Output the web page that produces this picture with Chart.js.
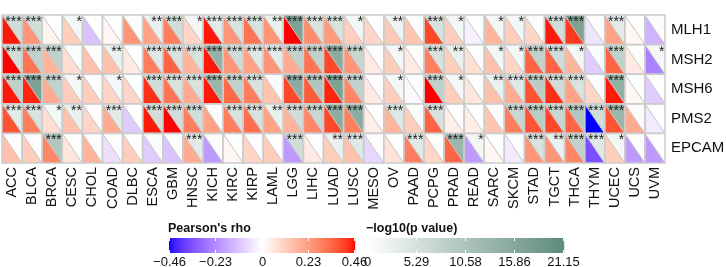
<!DOCTYPE html>
<html>
<head>
<meta charset="utf-8">
<script src="https://cdn.jsdelivr.net/npm/chart.js@4.4.1/dist/chart.umd.min.js"></script>
<style>
  html, body { margin: 0; padding: 0; background: #fff; }
  #wrap { width: 726px; height: 267px; }
</style>
</head>
<body>
<div id="wrap"><canvas id="heat" width="726" height="267"></canvas></div>
<script>
const cancers = ["ACC","BLCA","BRCA","CESC","CHOL","COAD","DLBC","ESCA","GBM","HNSC","KICH",
  "KIRC","KIRP","LAML","LGG","LIHC","LUAD","LUSC","MESO","OV","PAAD","PCPG",
  "PRAD","READ","SARC","SKCM","STAD","TGCT","THCA","THYM","UCEC","UCS","UVM"];
const genes = ["MLH1","MSH2","MSH6","PMS2","EPCAM"];

// Pearson's rho, one array per gene
const rhoMLH1 = [0.45,0.25,0.03,0.12,-0.12,0.02,0.25,0.22,0.30,0.10,0.45, 0.25,0.32,0.25,0.46,0.27,0.24,0.12,0.10,0.13,0.14,0.40, 0.12,-0.03,0.18,0.12,0.10,0.45,0.42,-0.05,0.22,0.02,-0.15];
const rhoMSH2 = [0.46,0.32,0.18,0.08,0.15,0.15,0.05,0.30,0.35,0.18,0.45, 0.25,0.22,0.25,0.20,0.32,0.40,0.25,0.05,0.12,0.05,0.30, 0.12,0.08,0.15,0.10,0.35,0.35,0.18,-0.10,0.35,0.05,-0.25];
const rhoMSH6 = [0.45,0.44,0.20,0.12,0.12,0.10,0.10,0.43,0.32,0.20,0.45, 0.34,0.30,0.14,0.40,0.37,0.44,0.28,0.05,0.12,-0.01,0.46, 0.12,0.06,0.15,0.20,0.38,0.43,0.22,0.10,0.45,0.02,-0.10];
const rhoPMS2 = [0.38,0.30,0.08,0.15,0.10,0.20,-0.10,0.45,0.46,0.30,0.22, 0.30,0.33,0.22,0.18,0.28,0.40,0.30,0.04,0.18,0.12,0.35, 0.04,0.04,0.14,0.30,0.38,0.40,0.35,-0.46,0.38,0.20,-0.04];
const rhoEPCAM = [0.15,0.12,0.28,0.06,0.18,-0.06,0.12,-0.10,-0.12,0.20,-0.20, 0.02,0.10,0.12,-0.20,0.05,0.12,0.15,-0.08,0.07,0.30,0.10, 0.35,-0.20,0.02,-0.04,0.25,0.25,0.28,-0.35,0.12,-0.20,-0.20];

// -log10(p value), one array per gene (upper-right triangles)
const logpMLH1 = [6,6,0.3,1.5,0.2,0.2,0.5,2.5,6,1.5,3.5, 5,5,2.5,17,5,5,1.5,0.3,2,0.3,5, 1.5,0.2,1.5,1.5,0.5,6,17,0.3,3.5,0.2,0.5];
const logpMSH2 = [6,8,8,0.5,0.3,2.5,0.2,4,5,5,14, 6,4,3.5,8,8,15,7,0.3,1.5,0.3,5, 2.5,0.3,1.5,1.5,8,6,1.5,0.5,8,0.3,1.5];
const logpMSH6 = [8,17,8,1.5,0.3,1.5,0.2,6,5,5,13, 8,5,0.5,15,10,17,8,0.3,1.5,0.2,8, 1.5,0.3,2.5,4,9,6,5,0.3,14,0.2,0.3];
const logpPMS2 = [3.5,5,1.5,2.5,0.3,3.5,0.3,6,6,6,0.5, 5,5,2.5,6,7,15,15,0.2,4,0.5,5, 0.2,0.2,0.5,7,9,7,10,6,13,0.5,0.2];
const logpEPCAM = [0.3,0.3,10,0.2,0.3,0.3,0.3,0.5,0.5,3.5,0.5, 0.2,0.3,0.3,6,0.3,2.5,4,0.3,0.3,4,0.3, 13,1.5,0.2,0.3,5,2.5,8,4,1.5,0.3,0.3];

// significance stars (count of *)
const starMLH1 = [3,3,0,1,0,0,0,2,3,1,3, 3,3,2,3,3,3,1,0,2,0,3, 1,0,1,1,0,3,3,0,3,0,0];
const starMSH2 = [3,3,3,0,0,2,0,3,3,3,3, 3,3,3,3,3,3,3,0,1,0,3, 2,0,1,1,3,3,1,0,3,0,1];
const starMSH6 = [3,3,3,1,0,1,0,3,3,3,3, 3,3,0,3,3,3,3,0,1,0,3, 1,0,2,3,3,3,3,0,3,0,0];
const starPMS2 = [3,3,1,2,0,3,0,3,3,3,0, 3,3,2,3,3,3,3,0,3,0,3, 0,0,0,3,3,3,3,3,3,0,0];
const starEPCAM = [0,0,3,0,0,0,0,0,0,3,0, 0,0,0,3,0,2,3,0,0,3,0, 3,1,0,0,3,2,3,3,1,0,0];

const rhoTicks = [-0.46,-0.23,0,0.23,0.46];
const logpTicks = [0,5.29,10.58,15.86,21.15];

const rhoRows = [rhoMLH1, rhoMSH2, rhoMSH6, rhoPMS2, rhoEPCAM];
const logpRows = [logpMLH1, logpMSH2, logpMSH6, logpPMS2, logpEPCAM];
const starRows = [starMLH1, starMSH2, starMSH6, starPMS2, starEPCAM];

// ---- colour helpers: interpolate in Lab like ggplot gradients ----
function toLin(c) { c /= 255; return c <= 0.04045 ? c / 12.92 : Math.pow((c + 0.055) / 1.055, 2.4); }
function fromLin(c) {
  const v = c <= 0.0031308 ? 12.92 * c : 1.055 * Math.pow(c, 1 / 2.4) - 0.055;
  return Math.round(Math.max(0, Math.min(1, v)) * 255);
}
function rgb2lab(rgb) {
  const r = toLin(rgb[0]), g = toLin(rgb[1]), b = toLin(rgb[2]);
  const X = (0.4124 * r + 0.3576 * g + 0.1805 * b) / 0.95047;
  const Y = 0.2126 * r + 0.7152 * g + 0.0722 * b;
  const Z = (0.0193 * r + 0.1192 * g + 0.9505 * b) / 1.08883;
  const f = t => t > 0.008856 ? Math.cbrt(t) : 7.787 * t + 16 / 116;
  return [116 * f(Y) - 16, 500 * (f(X) - f(Y)), 200 * (f(Y) - f(Z))];
}
function lab2rgb(lab) {
  const fy = (lab[0] + 16) / 116, fx = fy + lab[1] / 500, fz = fy - lab[2] / 200;
  const inv = t => t * t * t > 0.008856 ? t * t * t : (t - 16 / 116) / 7.787;
  const X = inv(fx) * 0.95047, Y = inv(fy), Z = inv(fz) * 1.08883;
  const r = 3.2406 * X - 1.5372 * Y - 0.4986 * Z;
  const g = -0.9689 * X + 1.8758 * Y + 0.0415 * Z;
  const b = 0.0557 * X - 0.2040 * Y + 1.0570 * Z;
  return "rgb(" + fromLin(r) + "," + fromLin(g) + "," + fromLin(b) + ")";
}
const labWhite = rgb2lab([255, 255, 255]);
const labRed = rgb2lab([255, 0, 0]);
const labBlue = rgb2lab([0, 0, 255]);
const labGreen = rgb2lab([94, 140, 122]);
function mix(a, b, t) { return [a[0] + (b[0] - a[0]) * t, a[1] + (b[1] - a[1]) * t, a[2] + (b[2] - a[2]) * t]; }
function rhoColor(v) {
  const t = Math.min(1, Math.abs(v) / 0.46);
  return lab2rgb(mix(labWhite, v >= 0 ? labRed : labBlue, t));
}
function logpColor(v) { return lab2rgb(mix(labWhite, labGreen, Math.min(1, v / 21.15))); }

// one point per cell so the scales place them
const cells = [];
genes.forEach((g, r) => cancers.forEach((c, i) => cells.push({ x: c, y: g, r: r, i: i })));

const cellPlugin = {
  id: "triCells",
  beforeDatasetsDraw(chart) {
    const ctx = chart.ctx, xs = chart.scales.x, ys = chart.scales.y;
    const w = (xs.right - xs.left) / cancers.length;
    const h = (ys.bottom - ys.top) / genes.length;
    ctx.save();
    cells.forEach(cell => {
      const cx = xs.getPixelForValue(cell.i), cy = ys.getPixelForValue(cell.r);
      const x0 = cx - w / 2, y0 = cy - h / 2, x1 = cx + w / 2, y1 = cy + h / 2;
      ctx.fillStyle = rhoColor(rhoRows[cell.r][cell.i]);
      ctx.beginPath(); ctx.moveTo(x0, y0); ctx.lineTo(x0, y1); ctx.lineTo(x1, y1); ctx.closePath(); ctx.fill();
      ctx.fillStyle = logpColor(logpRows[cell.r][cell.i]);
      ctx.beginPath(); ctx.moveTo(x0, y0); ctx.lineTo(x1, y0); ctx.lineTo(x1, y1); ctx.closePath(); ctx.fill();
      ctx.strokeStyle = "#c4c4c4"; ctx.lineWidth = 1;
      ctx.beginPath(); ctx.moveTo(x0, y0); ctx.lineTo(x1, y1); ctx.stroke();
    });
    ctx.strokeStyle = "#cccccc"; ctx.lineWidth = 1.5;
    cells.forEach(cell => {
      const cx = xs.getPixelForValue(cell.i), cy = ys.getPixelForValue(cell.r);
      ctx.strokeRect(cx - w / 2, cy - h / 2, w, h);
    });
    ctx.fillStyle = "#1a1a1a";
    ctx.font = "14px 'Liberation Sans', Arial, sans-serif";
    ctx.textAlign = "right"; ctx.textBaseline = "alphabetic";
    cells.forEach(cell => {
      const n = starRows[cell.r][cell.i];
      if (!n) return;
      const cx = xs.getPixelForValue(cell.i), cy = ys.getPixelForValue(cell.r);
      ctx.fillText("*".repeat(n), cx + w / 2 - 0.5, cy - h / 2 + 11);
    });
    ctx.restore();
  }
};

function drawBar(ctx, x0, x1, y0, y1, lo, hi, colorFn, ticks, title) {
  for (let px = x0; px < x1; px++) {
    const v = lo + (hi - lo) * ((px + 0.5 - x0) / (x1 - x0));
    ctx.fillStyle = colorFn(v);
    ctx.fillRect(px, y0, 1.2, y1 - y0);
  }
  ctx.strokeStyle = "#ffffff"; ctx.lineWidth = 1;
  ctx.fillStyle = "#111";
  ctx.font = "13px 'Liberation Sans', Arial, sans-serif";
  ctx.textAlign = "center"; ctx.textBaseline = "middle";
  ticks.forEach(t => {
    const px = Math.round(x0 + (t - lo) / (hi - lo) * (x1 - x0 - 1)) + 0.5;
    ctx.beginPath();
    ctx.moveTo(px, y0); ctx.lineTo(px, y0 + 3);
    ctx.moveTo(px, y1 - 3); ctx.lineTo(px, y1);
    ctx.stroke();
    ctx.fillText(String(t).replace("-", "\u2212"), px, y1 + 9);
  });
  ctx.font = "bold 12.5px 'Liberation Sans', Arial, sans-serif";
  ctx.textAlign = "left";
  ctx.fillText(title, x0 - 1, y0 - 9);
}

const legendPlugin = {
  id: "colorbars",
  afterDraw(chart) {
    const ctx = chart.ctx;
    ctx.save();
    drawBar(ctx, 169, 355, 238, 253, -0.46, 0.46, rhoColor, rhoTicks, "Pearson's rho");
    drawBar(ctx, 367, 564, 238, 253, 0, 21.15, logpColor, logpTicks, "\u2212log10(p value)");
    ctx.restore();
  }
};

new Chart(document.getElementById("heat").getContext("2d"), {
  type: "scatter",
  data: { datasets: [{ data: cells, pointRadius: 0, pointHoverRadius: 0 }] },
  options: {
    responsive: false,
    animation: false,
    layout: { padding: { left: 2, top: 2, right: 0, bottom: 0 } },
    scales: {
      x: {
        type: "category", labels: cancers, offset: true,
        grid: { display: false, drawTicks: false }, border: { display: false },
        ticks: { autoSkip: false, minRotation: 90, maxRotation: 90, padding: 4, color: "#111",
                 font: { family: "'Liberation Sans', Arial, sans-serif", size: 14.5 } },
        afterFit(s) { s.height = 104; }
      },
      y: {
        type: "category", labels: genes, offset: true, position: "right",
        grid: { display: false, drawTicks: false }, border: { display: false },
        ticks: { padding: 6, color: "#111",
                 font: { family: "'Liberation Sans', Arial, sans-serif", size: 15 } },
        afterFit(s) { s.width = 61; }
      }
    },
    plugins: { legend: { display: false }, tooltip: { enabled: false } }
  },
  plugins: [cellPlugin, legendPlugin]
});
</script>
</body>
</html>
